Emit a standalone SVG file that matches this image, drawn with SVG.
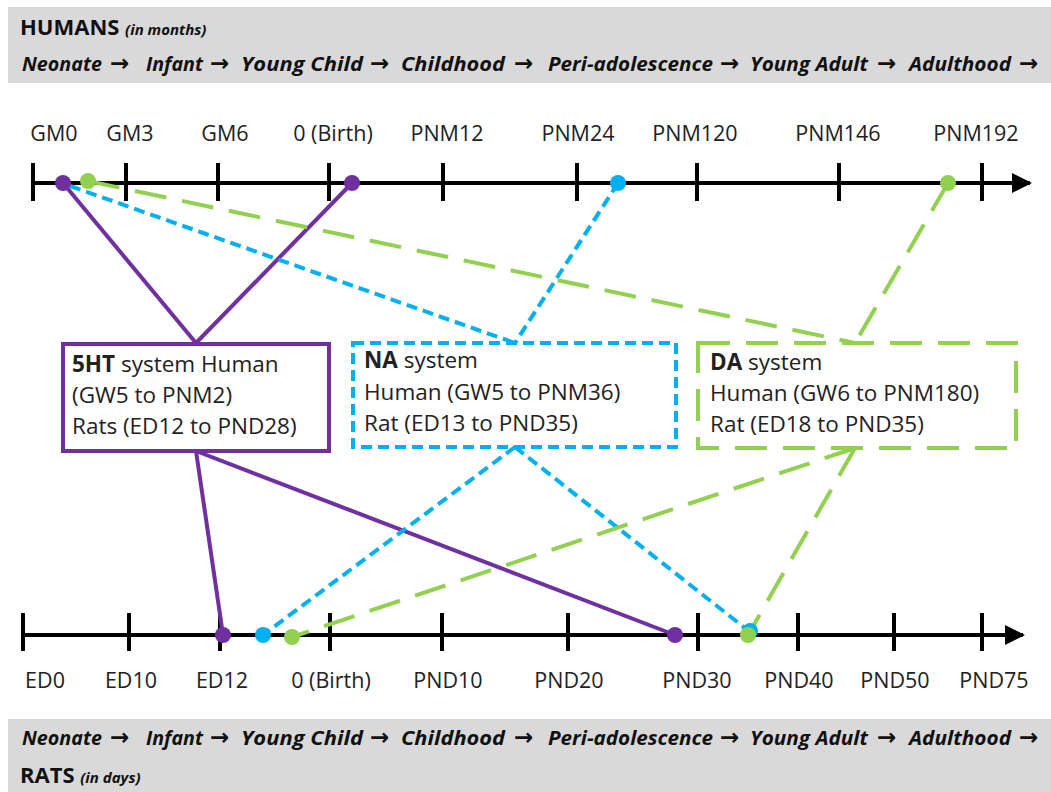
<svg xmlns="http://www.w3.org/2000/svg" width="1051" height="792" viewBox="0 0 1051 792">
  <style>
    .band { fill: #D9D9D9; }
    .hdr { font-family: "Open Sans", "Liberation Sans", sans-serif; font-weight: bold; fill: #111; }
    .stage { font-family: "Open Sans", "Liberation Sans", sans-serif; font-weight: bold; font-style: italic; font-size: 20px; fill: #111; }
    .arr { font-family: "DejaVu Sans", sans-serif; font-weight: bold; font-size: 23px; fill: #111; }
    .lbl { font-family: "Open Sans", "Liberation Sans", sans-serif; font-size: 21.5px; fill: #222; text-anchor: middle; }
    .box-text { font-family: "Open Sans", "Liberation Sans", sans-serif; font-size: 22.5px; fill: #222; }
    .axis { stroke: #000; stroke-width: 4; fill: none; }
    .tick { stroke: #000; stroke-width: 4; }
    .ht { stroke: #7030A0; stroke-width: 4; fill: none; }
    .na { stroke: #00B0F0; stroke-width: 4; fill: none; stroke-dasharray: 11 6; }
    .da { stroke: #92D050; stroke-width: 4; fill: none; stroke-dasharray: 32 16; }
  </style>
  <defs>
    <marker id="arrow" viewBox="0 0 10 10" refX="9" refY="5" markerWidth="5" markerHeight="5" markerUnits="strokeWidth" orient="auto">
      <path d="M0,0 L10,5 L0,10 z" fill="#000"/>
    </marker>
    <!-- Developmental stage sequence, baseline at y=0 -->
    <g id="stages">
      <text class="stage" x="22" textLength="80" lengthAdjust="spacingAndGlyphs">Neonate</text>
      <text class="arr" x="110">→</text>
      <text class="stage" x="146" textLength="57" lengthAdjust="spacingAndGlyphs">Infant</text>
      <text class="arr" x="210">→</text>
      <text class="stage" x="241" textLength="122" lengthAdjust="spacingAndGlyphs">Young Child</text>
      <text class="arr" x="370">→</text>
      <text class="stage" x="401" textLength="104" lengthAdjust="spacingAndGlyphs">Childhood</text>
      <text class="arr" x="514">→</text>
      <text class="stage" x="548" textLength="165" lengthAdjust="spacingAndGlyphs">Peri-adolescence</text>
      <text class="arr" x="720">→</text>
      <text class="stage" x="750" textLength="118" lengthAdjust="spacingAndGlyphs">Young Adult</text>
      <text class="arr" x="877">→</text>
      <text class="stage" x="909" textLength="102" lengthAdjust="spacingAndGlyphs">Adulthood</text>
      <text class="arr" x="1019">→</text>
    </g>
  </defs>

  <rect width="1051" height="792" fill="#fff"/>

  <!-- Header band: humans -->
  <g id="human-band">
    <rect class="band" x="8" y="7" width="1043" height="76"/>
    <text class="hdr" x="20" y="35" font-size="22">HUMANS <tspan font-style="italic" font-size="15">(in months)</tspan></text>
    <use href="#stages" transform="translate(0,71)"/>
  </g>

  <!-- Footer band: rats -->
  <g id="rat-band">
    <rect class="band" x="8" y="719" width="1043" height="73"/>
    <use href="#stages" transform="translate(0,745)"/>
    <text class="hdr" x="20" y="783" font-size="22">RATS <tspan font-style="italic" font-size="15">(in days)</tspan></text>
  </g>

  <!-- Human timeline -->
  <g id="human-axis">
    <line class="axis" x1="32" y1="183" x2="1030" y2="183" marker-end="url(#arrow)"/>
    <g class="tick">
      <line x1="33" y1="163" x2="33" y2="201"/>
      <line x1="126" y1="163" x2="126" y2="201"/>
      <line x1="218" y1="163" x2="218" y2="201"/>
      <line x1="329" y1="163" x2="329" y2="201"/>
      <line x1="443" y1="163" x2="443" y2="201"/>
      <line x1="577" y1="163" x2="577" y2="201"/>
      <line x1="697" y1="163" x2="697" y2="201"/>
      <line x1="839" y1="163" x2="839" y2="201"/>
      <line x1="982" y1="163" x2="982" y2="201"/>
    </g>
    <text class="lbl" x="54" y="141">GM0</text>
    <text class="lbl" x="130" y="141">GM3</text>
    <text class="lbl" x="225" y="141">GM6</text>
    <text class="lbl" x="333" y="141">0 (Birth)</text>
    <text class="lbl" x="447" y="141">PNM12</text>
    <text class="lbl" x="578" y="141">PNM24</text>
    <text class="lbl" x="695" y="141">PNM120</text>
    <text class="lbl" x="838" y="141">PNM146</text>
    <text class="lbl" x="976" y="141">PNM192</text>
  </g>

  <!-- Rat timeline -->
  <g id="rat-axis">
    <line class="axis" x1="22" y1="635" x2="1023" y2="635" marker-end="url(#arrow)"/>
    <g class="tick">
      <line x1="23" y1="613" x2="23" y2="651"/>
      <line x1="129" y1="613" x2="129" y2="651"/>
      <line x1="220" y1="613" x2="220" y2="651"/>
      <line x1="330" y1="613" x2="330" y2="651"/>
      <line x1="442" y1="613" x2="442" y2="651"/>
      <line x1="568" y1="613" x2="568" y2="651"/>
      <line x1="698" y1="613" x2="698" y2="651"/>
      <line x1="798" y1="613" x2="798" y2="651"/>
      <line x1="894" y1="613" x2="894" y2="651"/>
      <line x1="982" y1="613" x2="982" y2="651"/>
    </g>
    <text class="lbl" x="45" y="688">ED0</text>
    <text class="lbl" x="131" y="688">ED10</text>
    <text class="lbl" x="222" y="688">ED12</text>
    <text class="lbl" x="331" y="688">0 (Birth)</text>
    <text class="lbl" x="448" y="688">PND10</text>
    <text class="lbl" x="569" y="688">PND20</text>
    <text class="lbl" x="697" y="688">PND30</text>
    <text class="lbl" x="799" y="688">PND40</text>
    <text class="lbl" x="895" y="688">PND50</text>
    <text class="lbl" x="994" y="688">PND75</text>
  </g>

  <!-- Connectors between the timelines and the system boxes -->
  <g id="connectors">
    <line class="ht" x1="63" y1="183" x2="196" y2="343"/>
    <line class="ht" x1="352" y1="183" x2="196" y2="343"/>
    <line class="ht" x1="196" y1="451" x2="223" y2="635"/>
    <line class="ht" x1="196" y1="451" x2="675" y2="635"/>

    <line class="na" x1="70" y1="186" x2="515" y2="343"/>
    <line class="na" x1="618" y1="183" x2="515" y2="343"/>
    <line class="na" x1="515" y1="447" x2="263" y2="635"/>
    <line class="na" x1="515" y1="447" x2="750" y2="632"/>

    <line class="da" x1="88" y1="181" x2="855" y2="343"/>
    <line class="da" x1="948" y1="183" x2="855" y2="343"/>
    <line class="da" x1="855" y1="448" x2="292" y2="637"/>
    <line class="da" x1="855" y1="448" x2="748" y2="635"/>

    <g fill="#7030A0">
      <circle cx="63" cy="183" r="8"/>
      <circle cx="352" cy="183" r="8"/>
      <circle cx="223" cy="635" r="8"/>
      <circle cx="675" cy="635" r="8"/>
    </g>
    <g fill="#00B0F0">
      <circle cx="618" cy="183" r="8"/>
      <circle cx="263" cy="635" r="8"/>
      <circle cx="750" cy="631" r="8"/>
    </g>
    <g fill="#92D050">
      <circle cx="88" cy="181" r="8"/>
      <circle cx="948" cy="183" r="8"/>
      <circle cx="292" cy="637" r="8"/>
      <circle cx="748" cy="635" r="8"/>
    </g>
  </g>

  <!-- Serotonin system -->
  <g id="node-5ht">
    <rect x="63" y="344" width="266" height="107" fill="#fff" stroke="#7030A0" stroke-width="4"/>
    <text class="box-text" x="72" y="372"><tspan font-weight="bold">5HT</tspan> system Human</text>
    <text class="box-text" x="72" y="403">(GW5 to PNM2)</text>
    <text class="box-text" x="72" y="434">Rats (ED12 to PND28)</text>
  </g>

  <!-- Noradrenaline system -->
  <g id="node-na">
    <rect x="353" y="343" width="323" height="104" fill="#fff" class="na"/>
    <text class="box-text" x="364" y="368"><tspan font-weight="bold">NA</tspan> system</text>
    <text class="box-text" x="364" y="400">Human (GW5 to PNM36)</text>
    <text class="box-text" x="364" y="431">Rat (ED13 to PND35)</text>
  </g>

  <!-- Dopamine system -->
  <g id="node-da">
    <rect x="698" y="343" width="318" height="105" fill="#fff" class="da"/>
    <text class="box-text" x="710" y="370"><tspan font-weight="bold">DA</tspan> system</text>
    <text class="box-text" x="710" y="401">Human (GW6 to PNM180)</text>
    <text class="box-text" x="710" y="432">Rat (ED18 to PND35)</text>
  </g>
</svg>
